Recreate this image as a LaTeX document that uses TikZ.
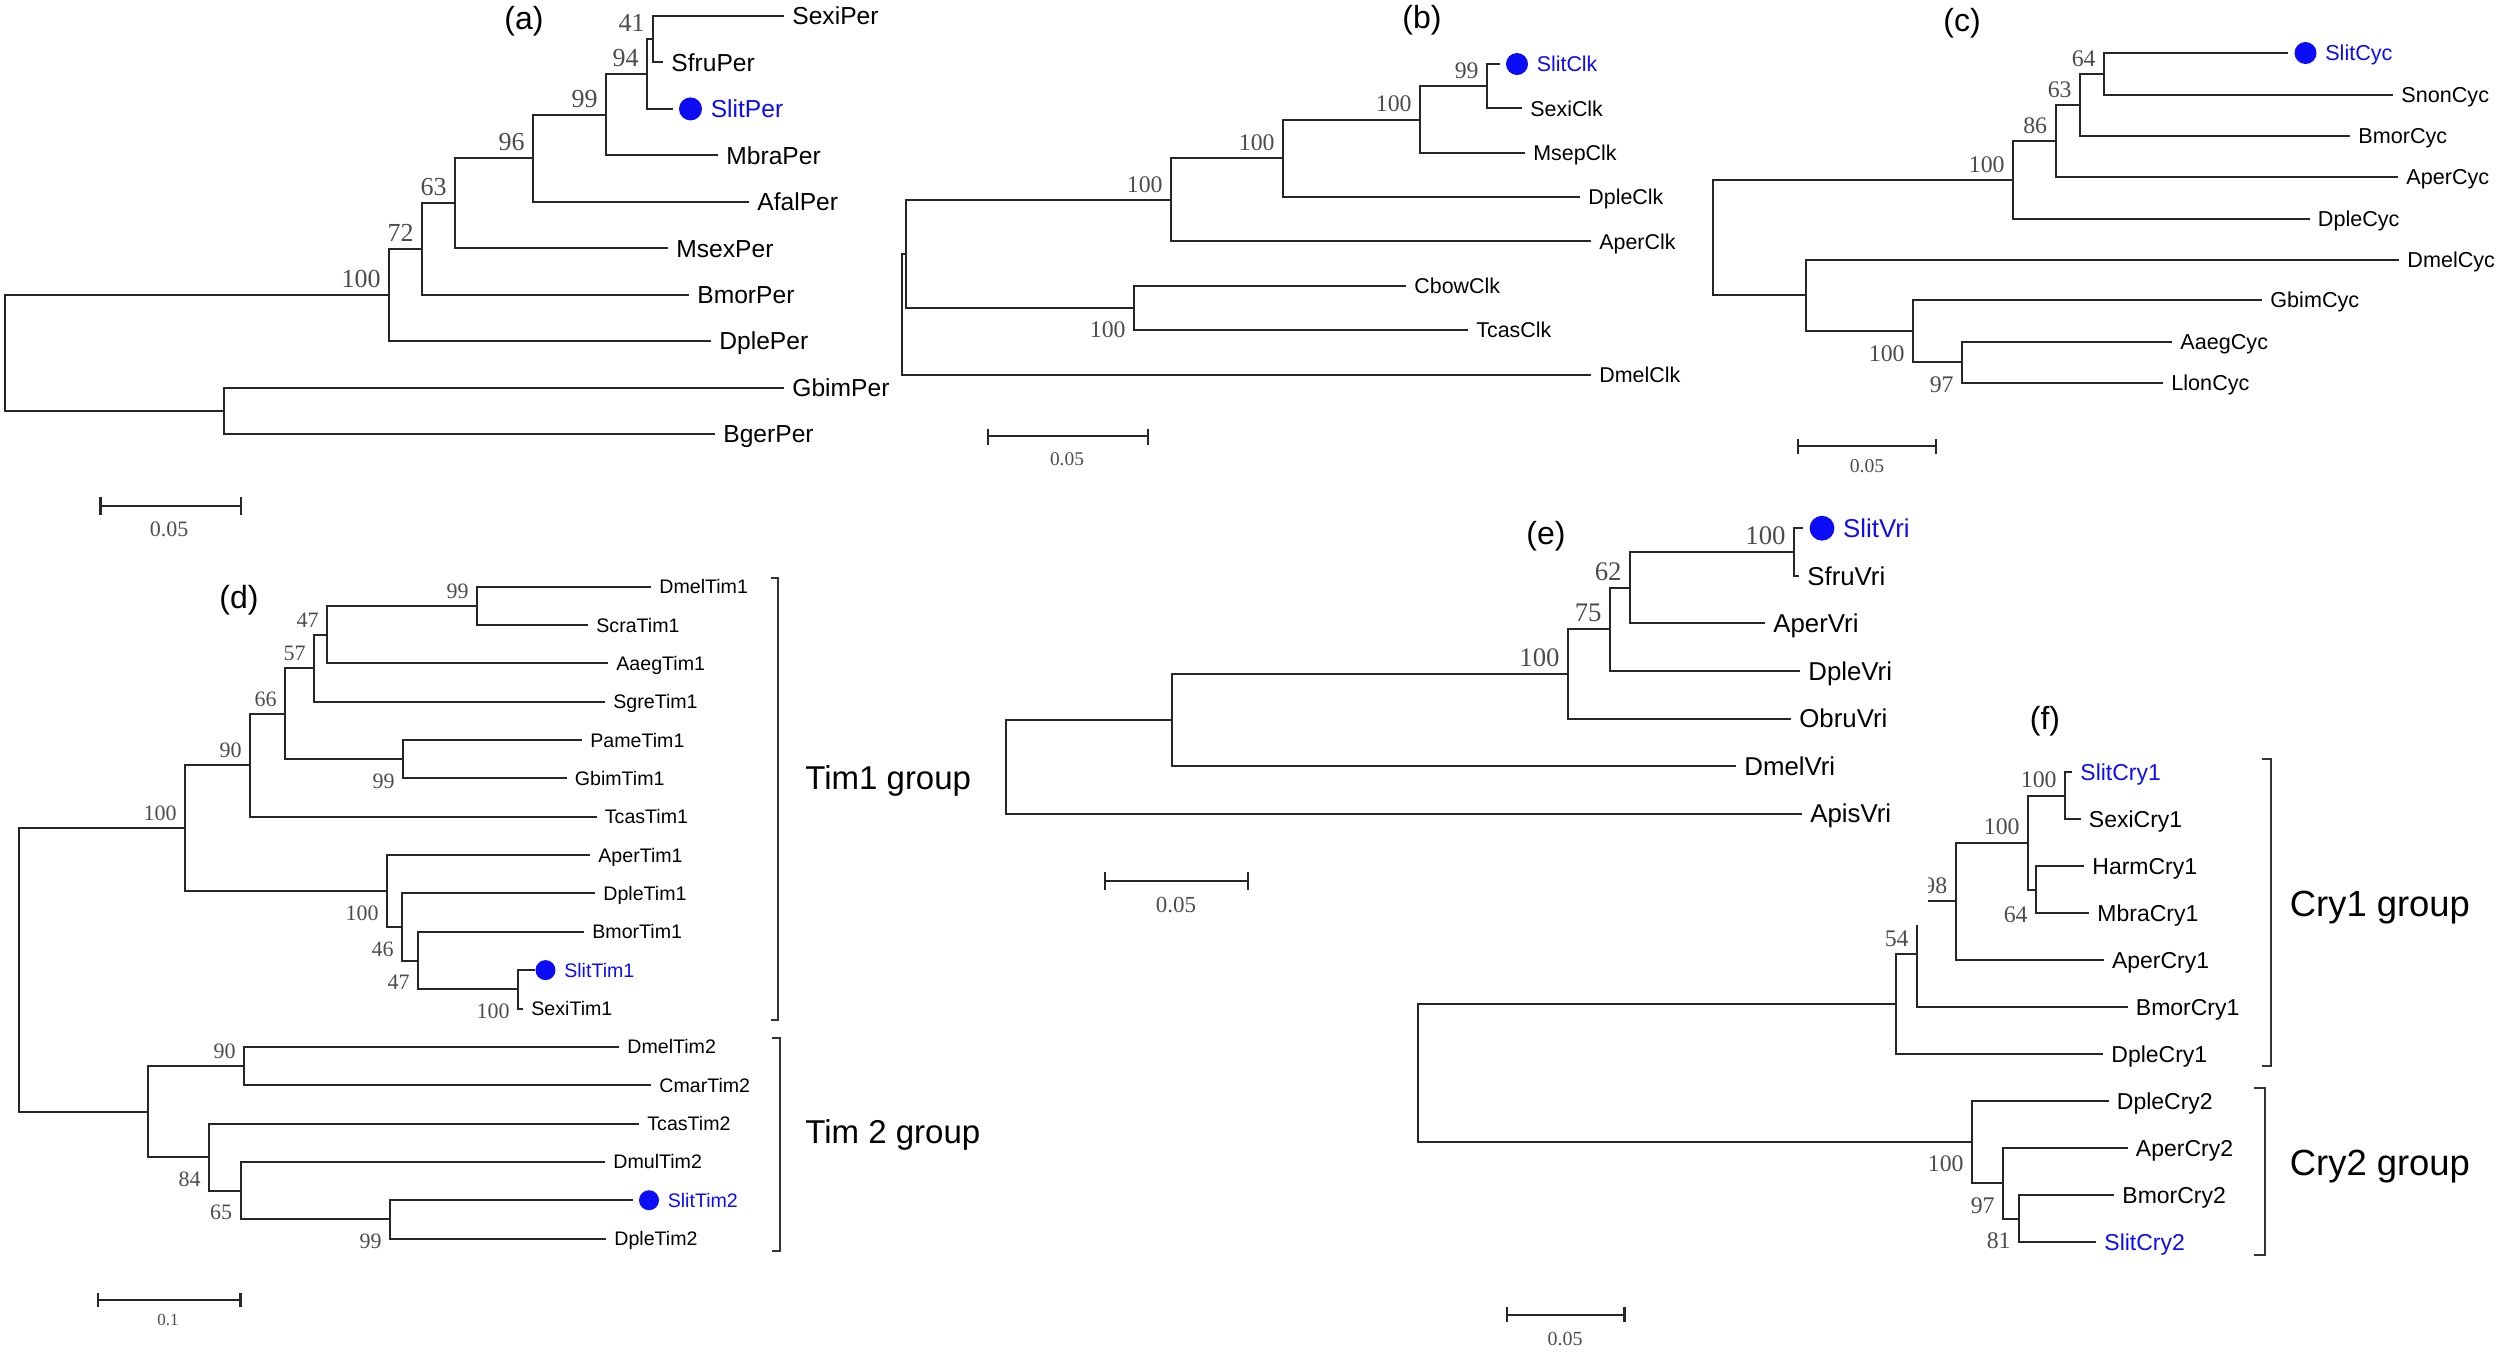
\documentclass[tikz,border=0pt]{standalone}
\usepackage{fontspec}
\setmainfont{Liberation Sans}
\newfontfamily\bootfont{Liberation Serif}
\usetikzlibrary{positioning}
\definecolor{slitblue}{RGB}{12,12,245}

\begin{document}
\begin{tikzpicture}[x=0.5pt,y=-0.5pt,
  branch/.style={line width=1pt,draw=black!85},
  leaf/.style={anchor=west,inner xsep=4pt,inner ysep=0pt,font=\fontsize{#1}{#1}\selectfont,text height={0.716*#1},text depth=0pt},
  boot/.style={inner sep=0pt,text=black!70,font=\bootfont\fontsize{#1}{#1}\selectfont},
  slit/.style={text=slitblue},
  spot/.style={circle,fill=slitblue,inner sep=0pt,minimum size=#1},
  panel/.style={inner sep=0pt,font=\fontsize{16pt}{16pt}\selectfont},
  group/.style={anchor=west,inner sep=0pt,font=\fontsize{#1}{#1}\selectfont},
  bar/.style={line width=1.1pt,draw=black!85},
  bracket/.style={line width=0.85pt,draw=black!80}]
\useasboundingbox (0,0) rectangle (2500,1351);

%Tree (a): Per
\begin{scope}[lf/.style={leaf=12.3pt},bt/.style={boot=13pt}]
\coordinate (aRoot) at (5,352.9);
\coordinate (a100) at (389,295);
\coordinate (a72) at (422,248.9);
\coordinate (a63) at (455,203.2);
\coordinate (a96) at (533,158.2);
\coordinate (a99) at (606,114.7);
\coordinate (a94) at (647,74);
\coordinate (a41) at (653,39.2);
\coordinate (aGB) at (224,410.8);
% Text Node
\node[lf] (aSexi) at (784,16) {SexiPer};
\node[lf] (aSfru) at (663,62.4) {SfruPer};
\node[spot=11.5pt] (aSlitDot) at (690.5,108.9) {};
\node[lf,slit,right=0pt of aSlitDot] (aSlit) {SlitPer};
\node[lf] (aMbra) at (718,155.3) {MbraPer};
\node[lf] (aAfal) at (749,201.8) {AfalPer};
\node[lf] (aMsex) at (668,248.2) {MsexPer};
\node[lf] (aBmor) at (689,294.6) {BmorPer};
\node[lf] (aDple) at (711,341.1) {DplePer};
\node[lf] (aGbim) at (784,387.5) {GbimPer};
\node[lf] (aBger) at (715,434) {BgerPer};
%Branches
\draw[branch] (aRoot) |- (a100) (aRoot) |- (aGB)
  (a100) |- (a72) (a100) |- (aDple)
  (a72) |- (a63) (a72) |- (aBmor)
  (a63) |- (a96) (a63) |- (aMsex)
  (a96) |- (a99) (a96) |- (aAfal)
  (a99) |- (a94) (a99) |- (aMbra)
  (a94) |- (a41)
  (a41) |- (aSexi) (a41) |- (aSfru)
  (aGB) |- (aGbim) (aGB) |- (aBger);
\draw[branch,shorten >=3pt] (a94) |- (aSlitDot);
% Text Node
\node[bt,above left=3.5pt and 4pt of a100] (a100l) {100};
\node[bt,above left=3.5pt and 4pt of a72] (a72l) {72};
\node[bt,above left=3.5pt and 4pt of a63] (a63l) {63};
\node[bt,above left=3.5pt and 4pt of a96] (a96l) {96};
\node[bt,above left=3.5pt and 4pt of a99] (a99l) {99};
\node[bt,above left=3.5pt and 4pt of a94] (a94l) {94};
\node[bt,above left=3.5pt and 4pt of a41] (a41l) {41};
\node[panel] (aPanel) at (524,21) {(a)};
\draw[bar] (100.5,497) -- (100.5,514.5) (100.5,505.8) -- (241,505.8) (241,497) -- (241,514.5);
\node[boot=11pt] (aScale) at (169,529) {0.05};
\end{scope}

%Tree (b): Clk
\begin{scope}[lf/.style={leaf=10.7pt},bt/.style={boot=11.9pt}]
\coordinate (bRoot) at (902,314.2);
\coordinate (bA) at (906,253.9);
\coordinate (b100t) at (1171,199.8);
\coordinate (b100b) at (1283,158.2);
\coordinate (b100c) at (1420,119.5);
\coordinate (b99) at (1487,86.2);
\coordinate (bCT) at (1134,308);
% Text Node
\node[spot=11pt] (bSlitDot) at (1517,64) {};
\node[lf,slit,right=0pt of bSlitDot] (bSlit) {SlitClk};
\node[lf] (bSexi) at (1522,108.4) {SexiClk};
\node[lf] (bMsep) at (1525,152.7) {MsepClk};
\node[lf] (bDple) at (1580,197) {DpleClk};
\node[lf] (bAper) at (1591,241.4) {AperClk};
\node[lf] (bCbow) at (1406,285.8) {CbowClk};
\node[lf] (bTcas) at (1468,330.1) {TcasClk};
\node[lf] (bDmel) at (1591,374.5) {DmelClk};
%Branches
\draw[branch] (bRoot) |- (bA) (bRoot) |- (bDmel)
  (bA) |- (b100t) (bA) |- (bCT)
  (b100t) |- (b100b) (b100t) |- (bAper)
  (b100b) |- (b100c) (b100b) |- (bDple)
  (b100c) |- (b99) (b100c) |- (bMsep)
  (b99) |- (bSexi)
  (bCT) |- (bCbow) (bCT) |- (bTcas);
\draw[branch,shorten >=3pt] (b99) |- (bSlitDot);
% Text Node
\node[bt,above left=3.5pt and 4pt of b99] (b99l) {99};
\node[bt,above left=3.5pt and 4pt of b100c] (b100cl) {100};
\node[bt,above left=3.5pt and 4pt of b100b] (b100bl) {100};
\node[bt,above left=3.5pt and 4pt of b100t] (b100tl) {100};
\node[bt,left=4pt of bCT,yshift=-11pt] (bCTl) {100};
\node[panel] (bPanel) at (1422,20) {(b)};
\draw[bar] (988,428.6) -- (988,444.5) (988,436) -- (1148,436) (1148,428.6) -- (1148,444.5);
\node[boot=9.7pt] (bScale) at (1067,459.4) {0.05};
\end{scope}

%Tree (c): Cyc
\begin{scope}[lf/.style={leaf=10.8pt},bt/.style={boot=11.9pt}]
\coordinate (cRoot) at (1713,237.5);
\coordinate (c100) at (2013,179.7);
\coordinate (c86) at (2055.5,141);
\coordinate (c63) at (2080,104.9);
\coordinate (c64) at (2104,73.8);
\coordinate (cL1) at (1806,295.3);
\coordinate (c100g) at (1913,331.2);
\coordinate (c97) at (1962,362.3);
% Text Node
\node[spot=11pt] (cSlitDot) at (2305.5,53) {};
\node[lf,slit,right=0pt of cSlitDot] (cSlit) {SlitCyc};
\node[lf] (cSnon) at (2393,94.6) {SnonCyc};
\node[lf] (cBmor) at (2350,136) {BmorCyc};
\node[lf] (cAper) at (2398,177) {AperCyc};
\node[lf] (cDple) at (2309.5,218.5) {DpleCyc};
\node[lf] (cDmel) at (2399,259.5) {DmelCyc};
\node[lf] (cGbim) at (2262,300) {GbimCyc};
\node[lf] (cAaeg) at (2172,341.7) {AaegCyc};
\node[lf] (cLlon) at (2163,383) {LlonCyc};
%Branches
\draw[branch] (cRoot) |- (c100) (cRoot) |- (cL1)
  (c100) |- (c86) (c100) |- (cDple)
  (c86) |- (c63) (c86) |- (cAper)
  (c63) |- (c64) (c63) |- (cBmor)
  (c64) |- (cSnon)
  (cL1) |- (cDmel) (cL1) |- (c100g)
  (c100g) |- (cGbim) (c100g) |- (c97)
  (c97) |- (cAaeg) (c97) |- (cLlon);
\draw[branch,shorten >=3pt] (c64) |- (cSlitDot);
% Text Node
\node[bt,above left=3.5pt and 4pt of c64] (c64l) {64};
\node[bt,above left=3.5pt and 4pt of c63] (c63l) {63};
\node[bt,above left=3.5pt and 4pt of c86] (c86l) {86};
\node[bt,above left=3.5pt and 4pt of c100] (c100l) {100};
\node[bt,left=4pt of c100g,yshift=-11pt] (c100gl) {100};
\node[bt,left=4pt of c97,yshift=-11pt] (c97l) {97};
\node[panel] (cPanel) at (1962,23) {(c)};
\draw[bar] (1798,439) -- (1798,454) (1798,446) -- (1936,446) (1936,439) -- (1936,454);
\node[boot=9.8pt] (cScale) at (1867,466.6) {0.05};
\end{scope}

%Tree (d): Tim
\begin{scope}[lf/.style={leaf=9.8pt},bt/.style={boot=11pt}]
\coordinate (dRoot) at (19,969.9);
\coordinate (dT1) at (185,828.2);
\coordinate (d90) at (250,765.2);
\coordinate (d66) at (285,713.7);
\coordinate (d57) at (314,668.2);
\coordinate (d47a) at (327,634.6);
\coordinate (d99a) at (477,605.8);
\coordinate (d99b) at (403,759.2);
\coordinate (d100b) at (387,891.1);
\coordinate (d46) at (402,927);
\coordinate (d47b) at (418,960.6);
\coordinate (d100c) at (518,989.3);
\coordinate (dT2) at (148,1111.6);
\coordinate (d90b) at (244,1066);
\coordinate (d84) at (209,1157.1);
\coordinate (d65) at (240.5,1190.7);
\coordinate (d99c) at (390,1219.4);
% Text Node
\node[lf] (dDmel1) at (651,586.6) {DmelTim1};
\node[lf] (dScra1) at (588,625) {ScraTim1};
\node[lf] (dAaeg1) at (608,663.3) {AaegTim1};
\node[lf] (dSgre1) at (605,701.7) {SgreTim1};
\node[lf] (dPame1) at (582,740) {PameTim1};
\node[lf] (dGbim1) at (566.5,778.4) {GbimTim1};
\node[lf] (dTcas1) at (596.5,816.7) {TcasTim1};
\node[lf] (dAper1) at (590,855.1) {AperTim1};
\node[lf] (dDple1) at (595,893.4) {DpleTim1};
\node[lf] (dBmor1) at (584,931.8) {BmorTim1};
\node[spot=10pt] (dSlit1Dot) at (545.5,970.1) {};
\node[lf,slit,right=0pt of dSlit1Dot] (dSlit1) {SlitTim1};
\node[lf] (dSexi1) at (523,1008.5) {SexiTim1};
\node[lf] (dDmel2) at (619,1046.8) {DmelTim2};
\node[lf] (dCmar2) at (651,1085.2) {CmarTim2};
\node[lf] (dTcas2) at (639,1123.5) {TcasTim2};
\node[lf] (dDmul2) at (605,1161.9) {DmulTim2};
\node[spot=10pt] (dSlit2Dot) at (649,1200.2) {};
\node[lf,slit,right=0pt of dSlit2Dot] (dSlit2) {SlitTim2};
\node[lf] (dDple2) at (606,1238.6) {DpleTim2};
%Branches
\draw[branch] (dRoot) |- (dT1) (dRoot) |- (dT2)
  (dT1) |- (d90) (dT1) |- (d100b)
  (d90) |- (d66) (d90) |- (dTcas1)
  (d66) |- (d57) (d66) |- (d99b)
  (d57) |- (d47a) (d57) |- (dSgre1)
  (d47a) |- (d99a) (d47a) |- (dAaeg1)
  (d99a) |- (dDmel1) (d99a) |- (dScra1)
  (d99b) |- (dPame1) (d99b) |- (dGbim1)
  (d100b) |- (dAper1) (d100b) |- (d46)
  (d46) |- (dDple1) (d46) |- (d47b)
  (d47b) |- (dBmor1) (d47b) |- (d100c)
  (d100c) |- (dSexi1)
  (dT2) |- (d90b) (dT2) |- (d84)
  (d90b) |- (dDmel2) (d90b) |- (dCmar2)
  (d84) |- (dTcas2) (d84) |- (d65)
  (d65) |- (dDmul2) (d65) |- (d99c)
  (d99c) |- (dDple2);
\draw[branch,shorten >=3pt] (d100c) |- (dSlit1Dot) (d99c) |- (dSlit2Dot);
% Text Node
\node[bt,above left=3.5pt and 4pt of d99a] (d99al) {99};
\node[bt,above left=3.5pt and 4pt of d47a] (d47al) {47};
\node[bt,above left=3.5pt and 4pt of d57] (d57l) {57};
\node[bt,above left=3.5pt and 4pt of d66] (d66l) {66};
\node[bt,above left=3.5pt and 4pt of d90] (d90l) {90};
\node[bt,above left=3.5pt and 4pt of dT1] (dT1l) {100};
\node[bt,above left=3.5pt and 4pt of d90b] (d90bl) {90};
\node[bt,left=4pt of d99b,yshift=-11pt] (d99bl) {99};
\node[bt,left=4pt of d100b,yshift=-11pt] (d100bl) {100};
\node[bt,left=4pt of d46,yshift=-11pt] (d46l) {46};
\node[bt,left=4pt of d47b,yshift=-11pt] (d47bl) {47};
\node[bt,left=4pt of d100c,yshift=-11pt] (d100cl) {100};
\node[bt,left=4pt of d84,yshift=-11pt] (d84l) {84};
\node[bt,left=4pt of d65,yshift=-11pt] (d65l) {65};
\node[bt,left=4pt of d99c,yshift=-11pt] (d99cl) {99};
\draw[bracket] (771,578) -- (778,578) -- (778,1020) -- (771,1020);
\draw[bracket] (772,1038) -- (780,1038) -- (780,1251) -- (772,1251);
\node[group=16.5pt] (dTim1) at (805,781) {Tim1 group};
\node[group=16.5pt] (dTim2) at (805,1135) {Tim 2 group};
\node[panel] (dPanel) at (239,600) {(d)};
\draw[bar] (97.6,1293) -- (97.6,1306.6) (97.6,1299.6) -- (240.5,1299.6) (240.5,1293) -- (240.5,1306.6);
\node[boot=8.5pt] (dScale) at (168,1319.6) {0.1};
\end{scope}

%Tree (f): Cry
\begin{scope}[lf/.style={leaf=11.5pt},bt/.style={boot=11.9pt}]
\coordinate (fRoot) at (1417.5,1073);
\coordinate (fX) at (1896,1004);
\coordinate (f54) at (1917,954.1);
\coordinate (f98) at (1955.6,901.25);
\coordinate (f100f) at (2028,842.5);
\coordinate (fSS) at (2065,795.5);
\coordinate (f64) at (2036,889.5);
\coordinate (fC2) at (1972,1142.1);
\coordinate (f97) at (2003,1183.25);
\coordinate (f81) at (2019,1218.5);
% Text Node
\node[lf,slit] (fSlit1) at (2072,772) {SlitCry1};
\node[lf] (fSexi1) at (2080.5,819) {SexiCry1};
\node[lf] (fHarm1) at (2084,866) {HarmCry1};
\node[lf] (fMbra1) at (2089,913) {MbraCry1};
\node[lf] (fAper1) at (2103.6,960) {AperCry1};
\node[lf] (fBmor1) at (2127.5,1007) {BmorCry1};
\node[lf] (fDple1) at (2103,1054) {DpleCry1};
\node[lf] (fDple2) at (2108.5,1101) {DpleCry2};
\node[lf] (fAper2) at (2127.5,1148) {AperCry2};
\node[lf] (fBmor2) at (2114,1195) {BmorCry2};
\node[lf,slit] (fSlit2) at (2096,1242) {SlitCry2};
%Branches
\draw[branch] (fRoot) |- (fX) (fRoot) |- (fC2)
  (fX) |- (f54) (fX) |- (fDple1)
  (f54) |- (f98) (f54) |- (fBmor1)
  (f98) |- (f100f) (f98) |- (fAper1)
  (f100f) |- (fSS) (f100f) |- (f64)
  (fSS) |- (fSlit1) (fSS) |- (fSexi1)
  (f64) |- (fHarm1) (f64) |- (fMbra1)
  (fC2) |- (fDple2) (fC2) |- (f97)
  (f97) |- (fAper2) (f97) |- (f81)
  (f81) |- (fBmor2) (f81) |- (fSlit2);
% Text Node
\node[bt,above left=3.5pt and 4pt of fSS] (fSSl) {100};
\node[bt,above left=3.5pt and 4pt of f100f] (f100fl) {100};
\node[bt,above left=3.5pt and 4pt of f98] (f98l) {98};
\node[bt,above left=3.5pt and 4pt of f54] (f54l) {54};
\node[bt,left=4pt of f64,yshift=-12.5pt] (f64l) {64};
\node[bt,left=4pt of fC2,yshift=-11pt] (fC2l) {100};
\node[bt,left=4pt of f97,yshift=-11pt] (f97l) {97};
\node[bt,left=4pt of f81,yshift=-11pt] (f81l) {81};
\draw[bracket] (2261.5,759) -- (2271,759) -- (2271,1066) -- (2261.5,1066);
\draw[bracket] (2254,1088) -- (2265,1088) -- (2265,1255) -- (2254,1255);
\node[group=18.2pt] (fCry1) at (2289.5,908) {Cry1 group};
\node[group=18.2pt] (fCry2) at (2289.5,1167) {Cry2 group};
\node[panel] (fPanel) at (2045,721.5) {(f)};
\draw[bar] (1506.6,1306.6) -- (1506.6,1322) (1506.6,1315) -- (1624.5,1315) (1624.5,1306.6) -- (1624.5,1322);
\node[boot=10pt] (fScale) at (1565,1339) {0.05};
\end{scope}

%Shape: Rectangle, white ground of panel (e) over the corner of (f)
\fill[white] (1400,700) rectangle (1928,925);

%Tree (e): Vri
\begin{scope}[lf/.style={leaf=12.9pt},bt/.style={boot=13.4pt}]
\coordinate (eRoot) at (1006,766.9);
\coordinate (eE1) at (1172,720);
\coordinate (e100e) at (1568,673.9);
\coordinate (e75) at (1610,629.3);
\coordinate (e62) at (1630,587.7);
\coordinate (e100v) at (1794,552);
% Text Node
\node[spot=12.4pt] (eSlitDot) at (1822,528.2) {};
\node[lf,slit,right=0pt of eSlitDot] (eSlit) {SlitVri};
\node[lf] (eSfru) at (1799,575.8) {SfruVri};
\node[lf] (eAper) at (1765,623.4) {AperVri};
\node[lf] (eDple) at (1800,670.9) {DpleVri};
\node[lf] (eObru) at (1791,718.5) {ObruVri};
\node[lf] (eDmel) at (1736,766.1) {DmelVri};
\node[lf] (eApis) at (1802,813.7) {ApisVri};
%Branches
\draw[branch] (eRoot) |- (eE1) (eRoot) |- (eApis)
  (eE1) |- (e100e) (eE1) |- (eDmel)
  (e100e) |- (e75) (e100e) |- (eObru)
  (e75) |- (e62) (e75) |- (eDple)
  (e62) |- (e100v) (e62) |- (eAper)
  (e100v) |- (eSfru);
\draw[branch,shorten >=3pt] (e100v) |- (eSlitDot);
% Text Node
\node[bt,above left=3.5pt and 4pt of e100v] (e100vl) {100};
\node[bt,above left=3.5pt and 4pt of e62] (e62l) {62};
\node[bt,above left=3.5pt and 4pt of e75] (e75l) {75};
\node[bt,above left=3.5pt and 4pt of e100e] (e100el) {100};
\node[panel] (ePanel) at (1546,536.5) {(e)};
\draw[bar] (1105,872) -- (1105,890) (1105,881) -- (1248,881) (1248,872) -- (1248,890);
\node[boot=11.5pt] (eScale) at (1176,905) {0.05};
\end{scope}

\end{tikzpicture}
\end{document}
